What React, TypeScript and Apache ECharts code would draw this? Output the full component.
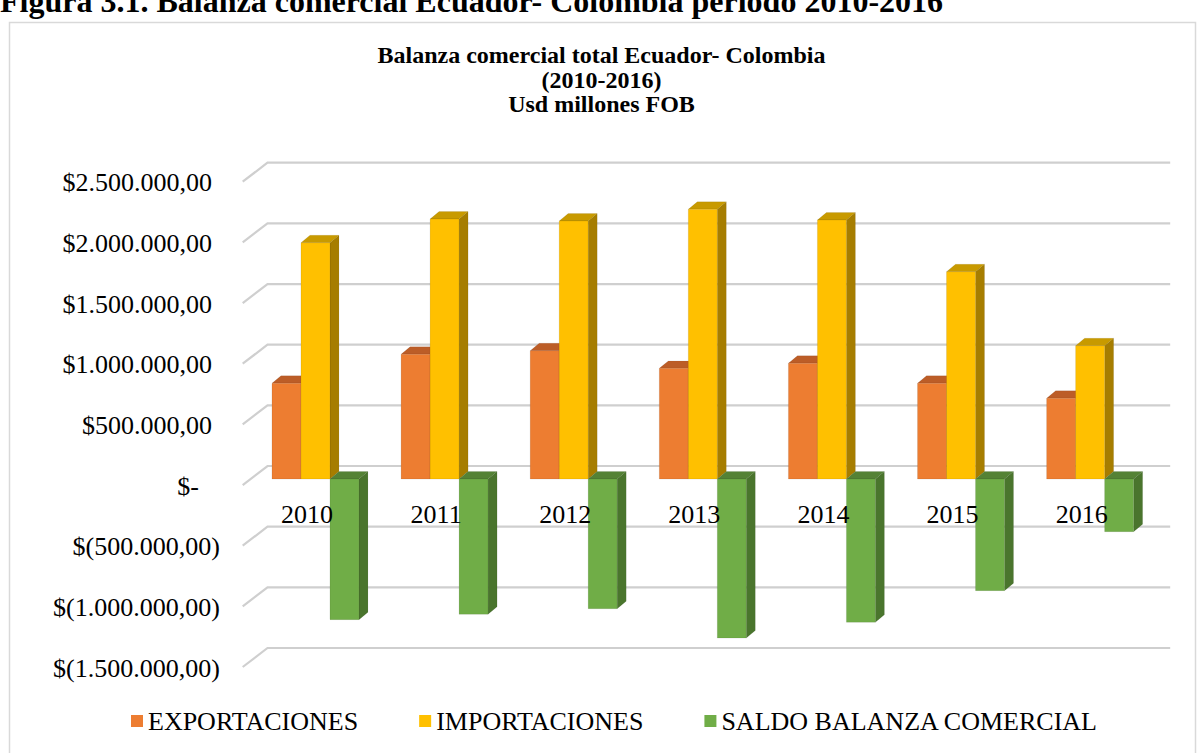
import React, { useEffect, useRef } from 'react';
import * as echarts from 'echarts';

const years = ['2010', '2011', '2012', '2013', '2014', '2015', '2016'];
const exportaciones = [789000, 1028000, 1058000, 912000, 954000, 789000, 665000];
const importaciones = [1948000, 2143000, 2127000, 2223000, 2135000, 1709000, 1099000];
const saldo = [-1159000, -1115000, -1069000, -1311000, -1181000, -920000, -434000];
const yTicks = [-1500000, -1000000, -500000, 0, 500000, 1000000, 1500000, 2000000, 2500000];
const seriesNames = ['EXPORTACIONES', 'IMPORTACIONES', 'SALDO BALANZA COMERCIAL'];
const chartTitle = 'Balanza comercial total Ecuador- Colombia\n(2010-2016)\nUsd millones FOB';
const caption = 'Figura 3.1. Balanza comercial Ecuador- Colombia período 2010-2016';

const FONT = '"Liberation Serif", "Times New Roman", serif';
const FS = 26;

const palette = [
  { front: '#ED7D31', top: '#BC5D27', side: '#A9531F' },
  { front: '#FFC000', top: '#C89A00', side: '#A67D00' },
  { front: '#70AD47', top: '#548235', side: '#4A752D' },
];

function fmt(v: number): string {
  if (v === 0) return '{z|$-}';
  const s = String(Math.abs(v)).replace(/\B(?=(\d{3})+(?!\d))/g, '.') + ',00';
  return v > 0 ? `{p|$${s}}` : `{n|$(${s})}`;
}

function makeBarRender(k: number) {
  const c = palette[k];
  return (params: any, api: any) => {
    const cat = api.value(0);
    const val = api.value(1);
    const base = api.coord([cat, 0]);
    const tip = api.coord([cat, val]);
    const band = api.size([1, 0])[0];
    const bw = band * 0.2246;
    const x0 = base[0] - band * 0.372 + k * bw;
    const dx = band * 0.0697;
    const dy = band * 0.058;
    const yTop = Math.min(base[1], tip[1]);
    const yBot = Math.max(base[1], tip[1]);
    return {
      type: 'group',
      children: [
        {
          type: 'polygon',
          shape: { points: [[x0 + bw, yTop], [x0 + bw + dx, yTop - dy], [x0 + bw + dx, yBot - dy], [x0 + bw, yBot]] },
          style: { fill: c.side, stroke: 'rgba(0,0,0,0.08)', lineWidth: 0.8 },
        },
        {
          type: 'polygon',
          shape: { points: [[x0, yTop], [x0 + dx, yTop - dy], [x0 + bw + dx, yTop - dy], [x0 + bw, yTop]] },
          style: { fill: c.top, stroke: 'rgba(0,0,0,0.08)', lineWidth: 0.8 },
        },
        {
          type: 'rect',
          shape: { x: x0, y: yTop, width: bw, height: yBot - yTop },
          style: { fill: c.front, stroke: 'rgba(0,0,0,0.10)', lineWidth: 0.8 },
        },
      ],
    };
  };
}

function gridRender(params: any, api: any) {
  const v = api.value(1);
  const cs = params.coordSys;
  const p = api.coord([0, v]);
  const y = p[1];
  const backL = cs.x + 12.05;
  const backR = cs.x + cs.width + 11;
  const frontL = cs.x - 12.75;
  return {
    type: 'polyline',
    shape: { points: [[frontL, y + 6], [backL, y - 13], [backR, y - 13]] },
    style: { stroke: '#CFCFCF', lineWidth: 2.2, fill: null },
  };
}

export default function App() {
  const ref = useRef<HTMLDivElement>(null);
  useEffect(() => {
    if (!ref.current) return;
    const chart = echarts.init(ref.current, null, { renderer: 'svg' });
    const seriesValues = [exportaciones, importaciones, saldo];
    chart.setOption({
      animation: false,
      backgroundColor: '#fff',
      title: {
        text: chartTitle,
        left: 'center',
        top: 38,
        textStyle: { fontSize: 24, fontWeight: 'bold', fontFamily: FONT, lineHeight: 24.5, color: '#000' },
      },
      legend: {
        data: seriesNames,
        left: 126,
        top: 703,
        itemGap: 61,
        itemWidth: 12,
        itemHeight: 12,
        icon: 'rect',
        textStyle: { fontSize: FS, fontFamily: FONT, color: '#000' },
      },
      grid: { left: 255.45, right: 43.8, top: 175.7, bottom: 92 },
      xAxis: {
        type: 'category',
        data: years,
        z: 10,
        position: 'bottom',
        offset: -182,
        axisLine: { show: false },
        axisTick: { show: false },
        splitLine: { show: false },
        axisLabel: {
          margin: 22,
          fontSize: FS,
          fontFamily: FONT,
          color: '#000',
          padding: [0, 26, 0, 0],
        },
      },
      yAxis: {
        type: 'value',
        min: -1500000,
        max: 2500000,
        interval: 500000,
        axisLine: { show: false },
        axisTick: { show: false },
        splitLine: { show: false },
        axisLabel: {
          margin: 35.5,
          padding: [14, 0, 0, 0],
          formatter: (v: number) => fmt(v),
          rich: {
            p: { fontSize: FS, fontFamily: FONT, color: '#000', padding: [0, 8, 0, 0] },
            z: { fontSize: FS, fontFamily: FONT, color: '#000', padding: [0, 21, 0, 0] },
            n: { fontSize: FS, fontFamily: FONT, color: '#000' },
          },
        },
      },
      graphic: [
        {
          type: 'text',
          x: 0,
          y: -15.5,
          style: { text: caption, font: `bold 32px ${FONT}`, fill: '#000' },
        },
        {
          type: 'rect',
          shape: { x: 9.5, y: 22.5, width: 1186, height: 740 },
          style: { fill: 'none', stroke: '#D9D9D9', lineWidth: 1.5 },
          silent: true,
        },
      ],
      series: [
        {
          type: 'custom',
          name: 'grid',
          z: 1,
          silent: true,
          renderItem: gridRender,
          encode: { x: 0, y: 1 },
          data: yTicks.map((v) => [0, v]),
        },
        ...seriesNames.map((name, k) => ({
          type: 'custom',
          name,
          z: 2,
          itemStyle: { color: palette[k].front },
          renderItem: makeBarRender(k),
          encode: { x: 0, y: 1 },
          data: years.map((_, i) => [i, seriesValues[k][i]]),
        })),
      ],
    });
    return () => chart.dispose();
  }, []);
  return <div ref={ref} style={{ position: 'fixed', left: 0, top: 0, width: 1203, height: 753 }} />;
}
